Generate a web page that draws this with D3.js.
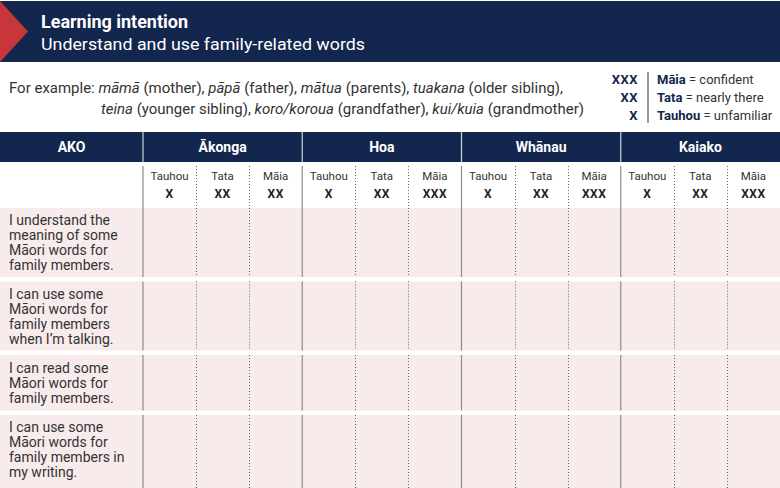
<!DOCTYPE html>
<html><head><meta charset="utf-8">
<script src="https://cdn.jsdelivr.net/npm/d3@7"></script>
<style>
html,body{margin:0;padding:0;background:#fff;overflow:hidden}
svg{display:block;font-family:Roboto,"Noto Sans",sans-serif}
</style></head>
<body>
<script>
// ---- data ----
const titleText = "Learning intention";
const subtitleText = "Understand and use family-related words";
const exampleLine1 = [["For example: ",0],["māmā",1],[" (mother), ",0],["pāpā",1],[" (father), ",0],["mātua",1],[" (parents), ",0],["tuakana",1],[" (older sibling),",0]];
const exampleLine2 = [["teina",1],[" (younger sibling), ",0],["koro/koroua",1],[" (grandfather), ",0],["kui/kuia",1],[" (grandmother)",0]];
const legendMarks = ["XXX","XX","X"];
const legendNames = ["Māia","Tata","Tauhou"];
const legendMeanings = ["confident","nearly there","unfamiliar"];
const firstHeader = "AKO";
const groups = ["Ākonga","Hoa","Whānau","Kaiako"];
const levels = ["Tauhou","Tata","Māia"];
const groupMarks = [["X","XX","XX"],["X","XX","XXX"],["X","XX","XXX"],["X","XX","XXX"]];
const statements = [
  ["I understand the","meaning of some","Māori words for","family members."],
  ["I can use some","Māori words for","family members","when I’m talking."],
  ["I can read some","Māori words for","family members."],
  ["I can use some","Māori words for","family members in","my writing."]
];

// ---- layout ----
const W = 780, H = 488;
const NAVY = "#13264d", RED = "#c8363a", PINK = "#f8ebec", TXT = "#333", GRID = "#8c8c8c";
const svg = d3.select("body").append("svg").attr("width", W).attr("height", H);

// banner
svg.append("rect").attr("x",0).attr("y",1).attr("width",W).attr("height",61).attr("fill",NAVY);
svg.append("path").attr("d","M0,1 L28,31.5 L0,62 Z").attr("fill",RED);
svg.append("text").attr("x",41).attr("y",28).attr("fill","#fff").attr("font-size",17.5).attr("font-weight",700)
  .attr("textLength",147).attr("lengthAdjust","spacingAndGlyphs").text(titleText);
svg.append("text").attr("x",41).attr("y",50).attr("fill","#fff").attr("font-size",17)
  .attr("textLength",324).attr("lengthAdjust","spacingAndGlyphs").text(subtitleText);

// example text
function exampleText(parts, x, y, anchor, len){
  const t = svg.append("text").attr("x",x).attr("y",y).attr("fill",TXT).attr("font-size",15)
    .attr("text-anchor",anchor).attr("textLength",len).attr("lengthAdjust","spacingAndGlyphs");
  t.selectAll("tspan").data(parts).join("tspan")
    .attr("font-style",d=>d[1]?"italic":"normal").text(d=>d[0]);
}
exampleText(exampleLine1, 9, 93, "start", 554);
exampleText(exampleLine2, 101, 114, "start", 483);

// legend
const ly = d3.scalePoint().domain(legendMarks).range([84,120]);
svg.append("line").attr("x1",648).attr("x2",648).attr("y1",72).attr("y2",123).attr("stroke","#555").attr("stroke-width",1.2);
legendMarks.forEach((m,i)=>{
  svg.append("text").attr("x",638).attr("y",ly(m)).attr("text-anchor","end").attr("fill",NAVY)
    .attr("font-size",13).attr("font-weight",700).attr("letter-spacing",0.5).text(m);
  const t = svg.append("text").attr("x",657).attr("y",ly(m)).attr("font-size",13).attr("fill",TXT);
  t.append("tspan").attr("font-weight",700).attr("fill",NAVY).text(legendNames[i]);
  t.append("tspan").text(" = " + legendMeanings[i]);
});

// table scales
const firstW = 143;
const xg = d3.scaleBand().domain(groups).range([firstW, W]);
const xl = d3.scaleBand().domain(levels).range([0, xg.bandwidth()]);

// header row
const hTop = 132, hBot = 162;
svg.append("rect").attr("x",0).attr("y",hTop).attr("width",W).attr("height",hBot-hTop).attr("fill",NAVY);
svg.append("text").attr("x",firstW/2).attr("y",152).attr("text-anchor","middle").attr("fill","#fff")
  .attr("font-size",14).attr("font-weight",700).text(firstHeader);
const gH = svg.selectAll("g.gh").data(groups).join("g").attr("class","gh");
gH.append("line").attr("x1",d=>xg(d)).attr("x2",d=>xg(d)).attr("y1",hTop).attr("y2",hBot)
  .attr("stroke","#d0d4dc").attr("stroke-width",1.2);
gH.append("text").attr("x",d=>xg(d)+xg.bandwidth()/2).attr("y",152).attr("text-anchor","middle")
  .attr("fill","#fff").attr("font-size",14).attr("font-weight",700).text(d=>d);

// sub header
const subTop = 166, subBot = 208;
groups.forEach((g,gi)=>{
  levels.forEach((l,li)=>{
    const cx = xg(g)+xl(l)+xl.bandwidth()/2;
    svg.append("text").attr("x",cx).attr("y",180).attr("text-anchor","middle").attr("fill",TXT)
      .attr("font-size",11.5).text(l);
    svg.append("text").attr("x",cx).attr("y",198).attr("text-anchor","middle").attr("fill","#222")
      .attr("font-size",12).attr("font-weight",700).attr("letter-spacing",0.6).text(groupMarks[gi][li]);
  });
});

// rows
const lineH = 15, gap = 4.5;
let y = subBot;
const segs = [[subTop, subBot]];
statements.forEach((s,i)=>{
  const h = s.length*13.5 + 15;
  const bottom = (i === statements.length-1) ? H : y + h;
  svg.append("rect").attr("x",0).attr("y",y).attr("width",W).attr("height",bottom-y).attr("fill",PINK);
  const cy = y + h/2;
  const t = svg.append("text").attr("fill",TXT).attr("font-size",14);
  s.forEach((line,k)=>{
    t.append("tspan").attr("x",9).attr("y", cy - (s.length-1)*lineH/2 + k*lineH + 5).text(line);
  });
  segs.push([y, bottom]);
  y += h + gap;
});

// grid lines
segs.forEach(([a,b])=>{
  groups.forEach(g=>{
    svg.append("line").attr("x1",xg(g)).attr("x2",xg(g)).attr("y1",a).attr("y2",b)
      .attr("stroke",GRID).attr("stroke-width",1.2);
    levels.slice(1).forEach(l=>{
      const x = Math.round(xg(g)+xl(l))+0.5;
      svg.append("line").attr("x1",x).attr("x2",x).attr("y1",a).attr("y2",b)
        .attr("stroke","#666").attr("stroke-width",1).attr("stroke-dasharray","1,2");
    });
  });
});
</script>
</body></html>
